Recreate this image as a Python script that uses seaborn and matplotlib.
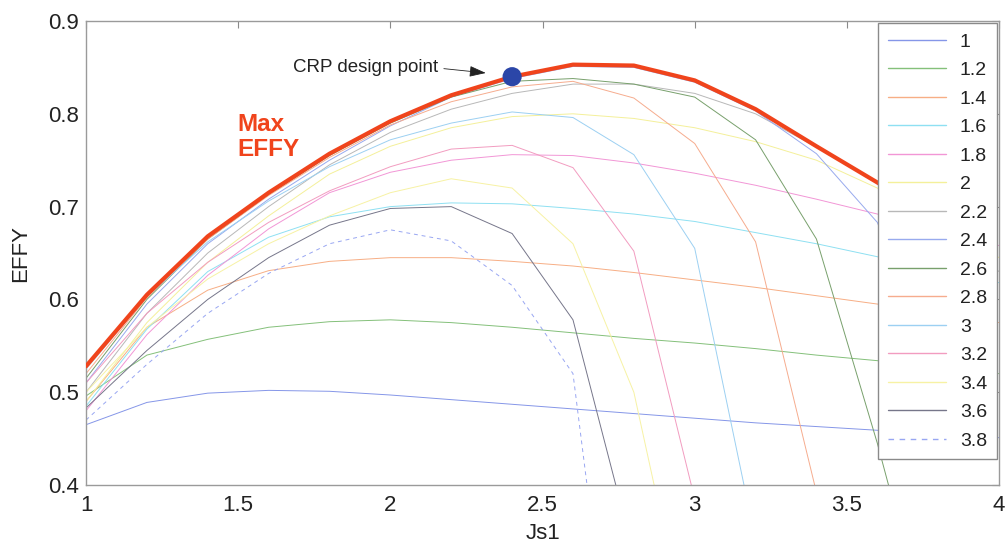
import numpy as np
import pandas as pd
import matplotlib
matplotlib.use("Agg")
import matplotlib.pyplot as plt
from matplotlib.lines import Line2D
import seaborn as sns

# Front-propeller advance ratio (x axis)
js1 = [1.0, 1.2, 1.4, 1.6, 1.8, 2.0, 2.2, 2.4, 2.6, 2.8, 3.0, 3.2, 3.4, 3.6, 3.8, 4.0]

# Propulsive efficiency for each rear-propeller advance ratio Js2
effy_js2_1_0 = [0.465, 0.489, 0.499, 0.502, 0.501, 0.497, 0.492, 0.487, 0.482, 0.477, 0.472, 0.467, 0.463, 0.459, 0.455, 0.451]
effy_js2_1_2 = [0.496, 0.540, 0.557, 0.570, 0.576, 0.578, 0.575, 0.570, 0.564, 0.558, 0.553, 0.547, 0.540, 0.534, 0.527, 0.520]
effy_js2_1_4 = [0.490, 0.570, 0.610, 0.631, 0.641, 0.645, 0.645, 0.641, 0.636, 0.629, 0.621, 0.613, 0.604, 0.595, 0.585, 0.575]
effy_js2_1_6 = [0.485, 0.568, 0.630, 0.667, 0.689, 0.700, 0.704, 0.703, 0.698, 0.692, 0.684, 0.672, 0.660, 0.646, 0.632, 0.618]
effy_js2_1_8 = [0.480, 0.562, 0.626, 0.676, 0.715, 0.737, 0.750, 0.756, 0.755, 0.747, 0.736, 0.723, 0.708, 0.692, 0.675, 0.658]
effy_js2_2_0 = [0.490, 0.575, 0.640, 0.690, 0.735, 0.765, 0.785, 0.797, 0.800, 0.795, 0.785, 0.770, 0.750, 0.720, 0.685, 0.645]
effy_js2_2_2 = [0.500, 0.585, 0.650, 0.700, 0.745, 0.780, 0.805, 0.822, 0.832, 0.832, 0.822, 0.800, 0.764, 0.725, 0.680, 0.630]
effy_js2_2_4 = [0.510, 0.595, 0.660, 0.708, 0.750, 0.787, 0.818, 0.838, 0.851, 0.850, 0.834, 0.803, 0.757, 0.683, 0.520]
effy_js2_2_6 = [0.515, 0.600, 0.665, 0.713, 0.755, 0.790, 0.818, 0.835, 0.838, 0.832, 0.818, 0.772, 0.665, 0.445, 0.200]
effy_js2_2_8 = [0.520, 0.602, 0.665, 0.712, 0.753, 0.788, 0.813, 0.829, 0.835, 0.817, 0.768, 0.662, 0.392, 0.100]
effy_js2_3_0 = [0.525, 0.603, 0.662, 0.706, 0.743, 0.772, 0.790, 0.802, 0.796, 0.756, 0.655, 0.340]
effy_js2_3_2 = [0.510, 0.585, 0.640, 0.683, 0.717, 0.743, 0.762, 0.766, 0.742, 0.652, 0.385]
effy_js2_3_4 = [0.500, 0.570, 0.622, 0.660, 0.690, 0.715, 0.730, 0.720, 0.660, 0.500, 0.200]
effy_js2_3_6 = [0.483, 0.545, 0.600, 0.645, 0.680, 0.698, 0.700, 0.671, 0.578, 0.325]
effy_js2_3_8 = [0.470, 0.530, 0.585, 0.628, 0.660, 0.675, 0.663, 0.615, 0.520, 0.000]

# Upper envelope over all Js2 values
max_effy = [0.528, 0.605, 0.668, 0.715, 0.757, 0.792, 0.820, 0.840, 0.853, 0.852, 0.836, 0.805, 0.765, 0.726, 0.685]

js2_labels = ["1", "1.2", "1.4", "1.6", "1.8", "2", "2.2", "2.4",
              "2.6", "2.8", "3", "3.2", "3.4", "3.6", "3.8"]
js2_series = [effy_js2_1_0, effy_js2_1_2, effy_js2_1_4, effy_js2_1_6, effy_js2_1_8,
              effy_js2_2_0, effy_js2_2_2, effy_js2_2_4, effy_js2_2_6, effy_js2_2_8,
              effy_js2_3_0, effy_js2_3_2, effy_js2_3_4, effy_js2_3_6, effy_js2_3_8]

design_js1 = [2.4]
design_effy = [0.840]

line_colors = ["#8596e8", "#84c07a", "#f7ae85", "#8ee0f2", "#f296d6", "#f4f09a", "#b8b8b8",
               "#98aaee", "#78a06c", "#f6ac8e", "#9cd0f2", "#f29cc0", "#f7f2a4", "#76768a",
               "#98a6f2"]
line_dashes = {lab: "" for lab in js2_labels}
line_dashes["3.8"] = (4, 4)

rows = []
for lab, vals in zip(js2_labels, js2_series):
    for x, y in zip(js1, vals):
        rows.append((x, y, lab))
df = pd.DataFrame(rows, columns=["Js1", "EFFY", "Js2"])

sns.set_theme(style="white")
plt.rcParams["font.family"] = ["Liberation Sans", "DejaVu Sans"]

fig = plt.figure(figsize=(10.05, 5.47), dpi=100)
ax = fig.add_axes([0.0856, 0.1133, 0.9085, 0.8483])

palette = dict(zip(js2_labels, line_colors))
sns.lineplot(data=df, x="Js1", y="EFFY", hue="Js2", style="Js2",
             hue_order=js2_labels, style_order=js2_labels,
             palette=palette, dashes=line_dashes, linewidth=0.7,
             estimator=None, sort=False, legend=False, ax=ax)

red = "#f0441c"
sns.lineplot(x=js1[:len(max_effy)], y=max_effy, color=red, linewidth=3.0, ax=ax,
             estimator=None, sort=False, zorder=3)
sns.scatterplot(x=design_js1, y=design_effy, s=190, color="#2b46a8",
                edgecolor="none", zorder=4, ax=ax)

ax.text(1.497, 0.775, "Max\nEFFY", color=red, fontsize=17.5, fontweight="bold",
        ha="left", va="center", linespacing=1.1)
ax.annotate("CRP design point", xy=(2.3135, 0.844), xytext=(1.679, 0.8454),
            fontsize=13.5, color="#222222", ha="left", va="baseline",
            arrowprops=dict(arrowstyle="-|>,head_length=0.75,head_width=0.25",
                            color="#222222", lw=0.6, shrinkA=2, shrinkB=0,
                            relpos=(1.0, 0.45)))

ax.set_xlim(1, 4)
ax.set_ylim(0.4, 0.9)
xt = [1, 1.5, 2, 2.5, 3, 3.5, 4]
yt = [0.4, 0.5, 0.6, 0.7, 0.8, 0.9]
ax.set_xticks(xt)
ax.set_xticklabels([f"{v:g}" for v in xt])
ax.set_yticks(yt)
ax.set_yticklabels([f"{v:g}" for v in yt])
ax.tick_params(direction="in", length=5, width=0.8, color="#8a8a8a",
               top=True, right=True, labelsize=16, labelcolor="#222222")
ax.tick_params(axis="x", pad=7)
ax.tick_params(axis="y", pad=5)
for sp in ax.spines.values():
    sp.set_color("#9a9a9a")
    sp.set_linewidth(1.0)
ax.set_xlabel("Js1", fontsize=16, color="#222222", labelpad=5)
ax.set_ylabel("EFFY", fontsize=16, color="#222222", labelpad=12)

handles = [Line2D([0], [0], color=c, lw=1.0,
                  linestyle=(0, (4, 4)) if lab == "3.8" else "-")
           for lab, c in zip(js2_labels, line_colors)]
leg = ax.legend(handles, js2_labels, loc="upper right", fontsize=14,
                frameon=True, fancybox=False, framealpha=1, facecolor="white",
                edgecolor="#8a8a8a", borderaxespad=0.12, handlelength=3.0,
                handletextpad=0.7, labelspacing=0.56, borderpad=0.5)
leg.get_frame().set_linewidth(1.0)
for t in leg.get_texts():
    t.set_color("#222222")

fig.savefig("out.png", dpi=100)
